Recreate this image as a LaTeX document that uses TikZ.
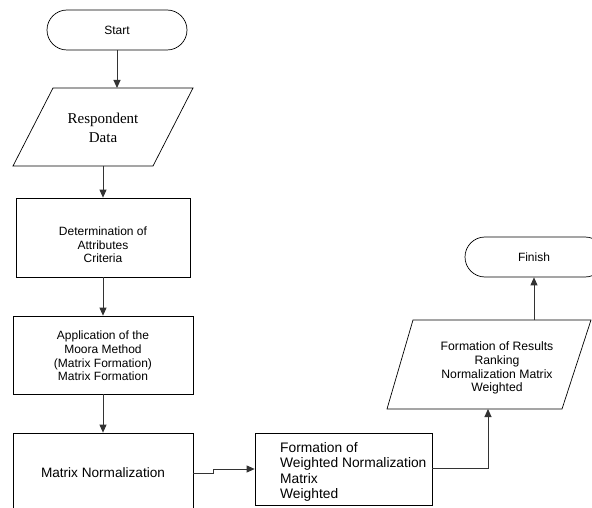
\documentclass[tikz,border=0pt]{standalone}
\usepackage{fontspec}
\setmainfont{Liberation Sans}
\newfontfamily\serifface{Liberation Serif}
\usetikzlibrary{arrows.meta}
\begin{document}
\begin{tikzpicture}[x=1pt,y=-1pt,
  shapeline/.style={draw=black,line width=0.7pt},
  conn/.style={draw=black!80,line width=0.9pt,-{Triangle[length=8pt,width=7pt]}},
  txt/.style={align=center,inner sep=0pt,font=\fontsize{12}{13.6}\selectfont},
  terminal/.style={shapeline,rounded corners=20pt,minimum height=40pt,inner sep=0pt,font=\fontsize{12}{14}\selectfont},
  procbox/.style={shapeline,rectangle,inner sep=0pt}]
\useasboundingbox (0,0) rectangle (592,508);
\begin{scope}
\clip (0,0) rectangle (592,508);
% Start
\node[terminal,minimum width=140pt] (start) at (117,30) {Start};
% Respondent Data parallelogram
\draw[shapeline] (53,88) coordinate (respTL) -- (193,88) -- (153,166) -- (13,166) -- cycle;
\coordinate (respTop) at (117,88);
\coordinate (respBot) at (103,166);
\node[align=center,inner sep=0pt,font=\serifface\fontsize{15}{19.5}\selectfont] (resp) at (103,128) {Respondent\\Data};
% Determination box
\node[procbox,minimum width=174pt,minimum height=79pt] (det) at (103,237.5) {};
\node[txt] (dettxt) at (103,245) {Determination of\\Attributes\\Criteria};
% Application box
\node[procbox,minimum width=180pt,minimum height=78pt] (app) at (103,355) {};
\node[txt] (apptxt) at (103,356) {Application of the\\Moora Method\\(Matrix Formation)\\Matrix Formation};
% Matrix Normalization box
\node[procbox,minimum width=180pt,minimum height=90pt] (norm) at (103,478) {};
\node[txt,font=\fontsize{13.6}{16}\selectfont] (normtxt) at (103,473) {Matrix Normalization};
% Weighted box
\node[procbox,minimum width=177pt,minimum height=72pt] (wgt) at (343.5,469) {};
\node[txt,align=left,anchor=west,font=\fontsize{13.8}{15.2}\selectfont] (wgttxt) at (280,472) {Formation of\\Weighted Normalization\\Matrix\\Weighted};
% Results parallelogram
\draw[shapeline] (413,320) -- (591,320) -- (562,409) -- (387,409) -- cycle;
\coordinate (resTop) at (534,320);
\coordinate (resBot) at (488,409);
\node[txt,font=\fontsize{12.2}{13.7}\selectfont] (restxt) at (497,368) {Formation of Results\\Ranking\\Normalization Matrix\\Weighted};
% Finish
\node[terminal,minimum width=140pt] (finish) at (535,257) {};
\node[font=\fontsize{12}{14}\selectfont,inner sep=0pt] (fintxt) at (534,257) {Finish};
% connectors
\draw[conn] (start.south) -- (respTop);
\draw[conn] (respBot) -- (det.north);
\draw[conn] (det.south) -- (app.north);
\draw[conn] (app.south) -- (norm.north);
\coordinate (jog) at (213,473);
\draw[conn] (norm.east |- jog) -- (jog) -- (213,469) -- (wgt.west |- 0,469);
\draw[conn] (wgt.east |- 0,468) -| (resBot);
\draw[conn] (resTop) -- (resTop |- finish.south);
\end{scope}
\end{tikzpicture}
\end{document}
